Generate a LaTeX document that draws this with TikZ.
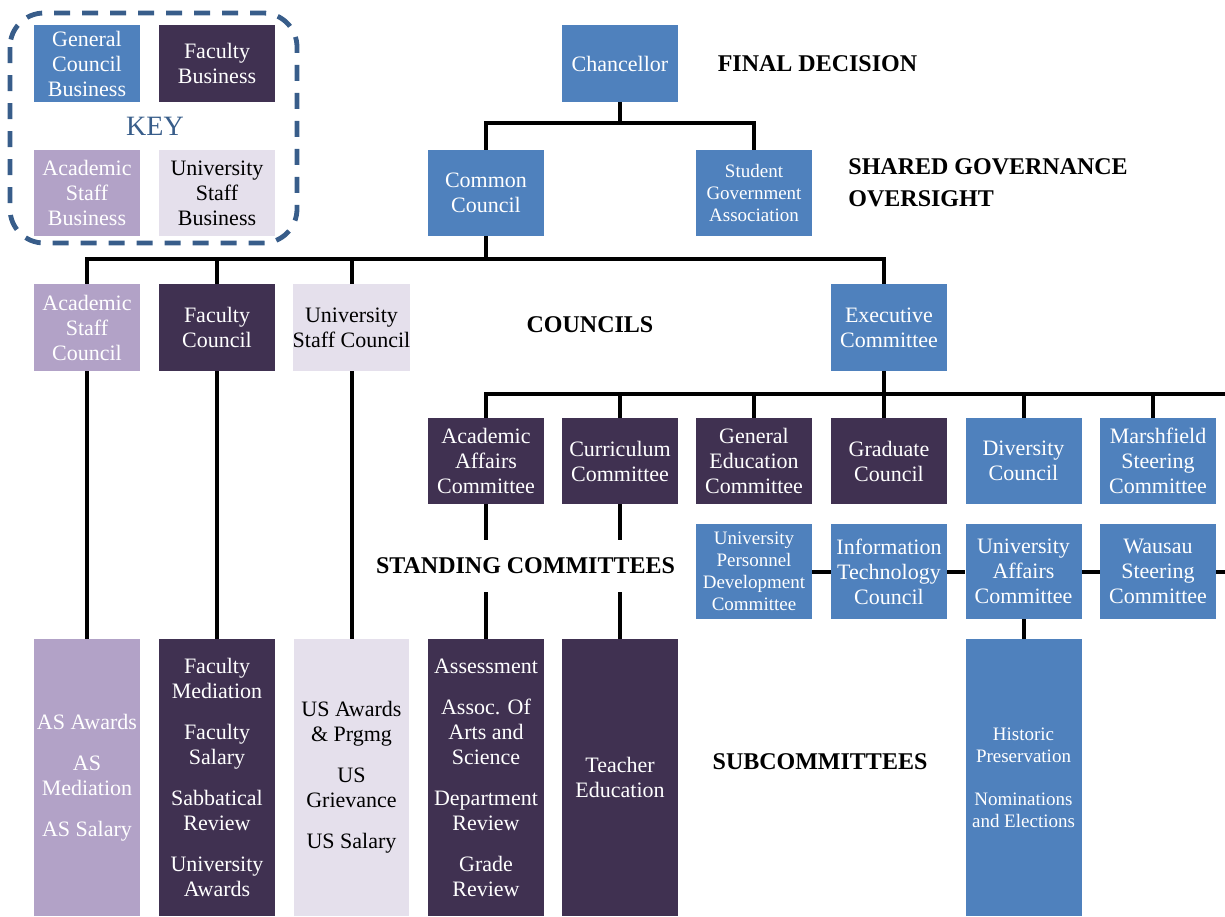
\documentclass[tikz,border=0pt]{standalone}
\usepackage{fontspec}
\setmainfont{Liberation Serif}
\usetikzlibrary{positioning,calc}
\definecolor{govblue}{HTML}{4F81BD}
\definecolor{facpurple}{HTML}{403151}
\definecolor{aslilac}{HTML}{B2A2C7}
\definecolor{uslilac}{HTML}{E5E0EC}
\definecolor{keyblue}{HTML}{385D8A}
\tikzset{
    % Box styles
    base box/.style={
        rectangle,
        inner sep=0pt,
        align=center,
        minimum width=58pt,
        font=\fontsize{11}{12.5}\selectfont
    },
    general box/.style={base box, fill=govblue, text=white},
    faculty box/.style={base box, fill=facpurple, text=white},
    as box/.style={base box, fill=aslilac, text=white},
    us box/.style={base box, fill=uslilac, text=black},
    small text/.style={font=\fontsize{9.5}{11}\selectfont},
    % Level labels
    level label/.style={
        inner sep=0pt,
        align=left,
        font=\fontsize{12}{16}\selectfont\bfseries
    },
    % Connector style
    link/.style={line width=2pt, black}
}

\begin{document}
\begin{tikzpicture}[x=0.5pt, y=-0.5pt]
        \useasboundingbox (0,0) rectangle (1225,916);

        % Key
        \node[general box, minimum width=53pt, minimum height=38.5pt] (keygen) at (87,63.5) {General\\Council\\Business};
        \node[faculty box, minimum height=38.5pt] (keyfac) at (217,63.5) {Faculty\\Business};
        \node[as box, minimum width=53pt, minimum height=43pt] (keyas) at (87,193) {Academic\\Staff\\Business};
        \node[us box, minimum height=43pt] (keyus) at (217,193) {University\\Staff\\Business};
        \node[text=keyblue, font=\fontsize{14}{16}\selectfont] (keylabel) at (155,126) {KEY};
        \draw[keyblue, line width=2.4pt, dash pattern=on 8pt off 6pt, rounded corners=17pt] (10,13) rectangle (297,243);

        % Final decision and oversight
        \node[general box, minimum height=38.5pt] (ch) at (620,63.5) {Chancellor};
        \node[general box, minimum height=43pt] (cc) at (486,193) {Common\\Council};
        \node[general box, small text, minimum height=43pt] (sga) at (754,193) {Student\\Government\\Association};

        % Councils
        \node[as box, minimum width=53pt, minimum height=43.5pt] (ascl) at (87,327.5) {Academic\\Staff\\Council};
        \node[faculty box, minimum height=43.5pt] (fc) at (217,327.5) {Faculty\\Council};
        \node[us box, minimum width=57.5pt, minimum height=43.5pt] (usc) at (351.5,327.5) {University\\Staff Council};
        \node[general box, minimum height=43.5pt] (exec) at (889,327.5) {Executive\\Committee};

        % Standing committees, first row
        \foreach \n/\x/\s/\txt in {aac/486/faculty/{Academic\\Affairs\\Committee},
                                  cur/620/faculty/{Curriculum\\Committee},
                                  gec/754/faculty/{General\\Education\\Committee},
                                  grad/889/faculty/{Graduate\\Council},
                                  div/1023.5/general/{Diversity\\Council},
                                  msc/1158/general/{Marshfield\\Steering\\Committee}} {
            \node[\s\space box, minimum height=43pt] (\n) at (\x,461) {\txt};
        }

        % Standing committees, second row
        \node[general box, small text, minimum height=47.5pt] (updc) at (754,571.5) {University\\Personnel\\Development\\Committee};
        \node[general box, minimum height=47.5pt] (itc) at (889,571.5) {Information\\Technology\\Council};
        \node[general box, minimum height=47.5pt] (uac) at (1023.5,571.5) {University\\Affairs\\Committee};
        \node[general box, minimum height=47.5pt] (wsc) at (1158,571.5) {Wausau\\Steering\\Committee};

        % Subcommittees
        \node[as box, minimum width=53pt, minimum height=138.5pt] (assub) at (87,777.5) {AS Awards\\[8pt]AS\\Mediation\\[8pt]AS Salary};
        \node[faculty box, minimum height=138.5pt] (fsub) at (217,777.5) {Faculty\\Mediation\\[8pt]Faculty\\Salary\\[8pt]Sabbatical\\Review\\[8pt]University\\Awards};
        \node[us box, minimum width=57.5pt, minimum height=138.5pt] (ussub) at (351.5,777.5) {US Awards\\\& Prgmg\\[8pt]US\\Grievance\\[8pt]US Salary};
        \node[faculty box, minimum height=138.5pt] (aasub) at (486,777.5) {Assessment\\[8pt]Assoc. Of\\Arts and\\Science\\[8pt]Department\\Review\\[8pt]Grade\\Review};
        \node[faculty box, minimum height=138.5pt] (tesub) at (620,777.5) {Teacher\\Education};
        \node[general box, small text, minimum height=138.5pt] (uasub) at (1023.5,777.5) {Historic\\Preservation\\[10.5pt]Nominations\\and Elections};

        % Connectors
        \coordinate (j1) at (620,123);
        \coordinate (j2) at (486,259);
        \coordinate (r3) at (1225,394);
        \coordinate (r4) at (1225,571.5);
        \draw[link] (ch.south) -- (j1);
        \draw[link] (cc.north) |- (j1) -| (sga.north);
        \draw[link] (cc.south) -- (j2);
        \foreach \n in {ascl,fc,usc}
            \draw[link] (\n.north) |- (j2);
        \draw[link] ([xshift=-2.5pt]exec.north) |- (j2);
        \draw[link] (aac.north) |- (r3);
        \draw[link] ([xshift=-2.5pt]exec.south) -- ([xshift=-2.5pt]grad.north);
        \foreach \n in {cur,gec,div}
            \draw[link] (\n.north) -- (\n.north |- r3);
        \draw[link] ([xshift=-2.5pt]msc.north) -- ([xshift=-2.5pt]msc.north |- r3);
        \draw[link] (updc) -- (itc) -- (uac) -- (wsc) -- (r4);
        \foreach \a/\b in {ascl/assub,fc/fsub,usc/ussub,aac/aasub,cur/tesub,uac/uasub}
            \draw[link] (\a.south) -- (\b.north);

        % Level labels
        \node[level label] (final) at (817.5,64) {FINAL DECISION};
        \node[level label, anchor=west] (shared) at (848,183) {SHARED GOVERNANCE\\OVERSIGHT};
        \node[level label] (councils) at (590,325) {COUNCILS};
        \node[level label, fill=white, inner xsep=2pt, minimum height=26pt] (standing) at (525.5,566) {STANDING COMMITTEES};
        \node[level label] (subs) at (820,762) {SUBCOMMITTEES};
    \end{tikzpicture}
\end{document}
